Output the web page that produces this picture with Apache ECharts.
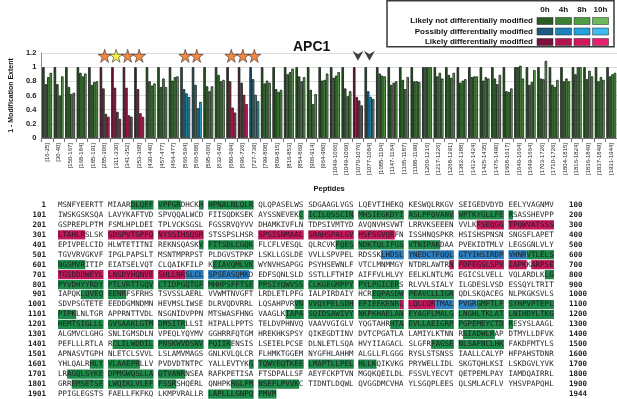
<!DOCTYPE html>
<html>
<head>
<meta charset="utf-8">
<script src="https://cdn.jsdelivr.net/npm/echarts@6/dist/echarts.min.js"></script>
<style>
  html, body { margin: 0; padding: 0; background: #fff; }
  #main { width: 617px; height: 399px; }
</style>
</head>
<body>
<div id="main"></div>
<script>
// peptides on the x axis, and whether each one looks differentially modified (g / b / p)
var peptides = ['[16-25]', '[30-40]', '[150-167]', '[168-184]', '[185-191]', '[285-306]', '[311-330]', '[341-352]', '[353-368]', '[430-440]',
  '[457-477]', '[464-477]', '[566-594]', '[566-588]', '[595-606]', '[632-640]', '[680-694]', '[696-726]', '[727-739]', '[799-808]',
  '[809-815]', '[816-853]', '[854-869]', '[906-914]', '[964-980]', '[1049-1066]', '[1049-1069]', '[1070-1076]', '[1077-1084]', '[1085-1104]',
  '[1147-1164]', '[1165-1187]', '[1188-1199]', '[1200-1216]', '[1217-1226]', '[1268-1291]', '[1382-1388]', '[1412-1424]', '[1425-1435]', '[1476-1490]',
  '[1608-1617]', '[1640-1664]', '[1649-1664]', '[1703-1726]', '[1710-1726]', '[1804-1815]', '[1816-1824]', '[1836-1849]', '[1837-1849]', '[1931-1944]'];
var peptideClass = ['g', 'g', 'g', 'g', 'g', 'p', 'p', 'p', 'p', 'g',
  'g', 'g', 'b', 'b', 'g', 'g', 'p', 'p', 'b', 'g',
  'g', 'g', 'g', 'g', 'g', 'g', 'g', 'p', 'b', 'g',
  'g', 'g', 'g', 'g', 'g', 'g', 'g', 'g', 'g', 'g',
  'g', 'g', 'g', 'g', 'g', 'g', 'g', 'g', 'g', 'g'];

var timepoints = ['0h', '4h', '8h', '10h'];
var val0h = [1, 1, 1, 1, 1, 1, 1, 1, 1, 1, 1, 1, 1, 1, 1, 1, 1, 1, 1, 1, 1, 1, 1, 1, 1,
  1, 1, 1, 1, 1, 1, 1, 1, 1, 1, 1, 1, 1, 1, 1, 1, 1, 1, 1, 1, 1, 1, 1, 1, 1];
var val4h = [0.76, 0.76, 0.72, 0.92, 0.75, 0.70, 0.71, 0.71, 0.69, 0.80,
  0.72, 0.81, 0.69, 0.75, 0.73, 0.89, 0.80, 0.78, 0.83, 0.77,
  0.69, 0.90, 0.87, 0.68, 0.81, 0.85, 0.70, 0.58, 0.66, 0.91,
  0.75, 0.82, 0.80, 1.00, 0.87, 0.89, 0.78, 0.86, 0.81, 0.84,
  0.66, 1.00, 0.75, 0.84, 0.75, 0.80, 0.90, 0.83, 0.80, 0.87];
var val8h = [0.86, 0.60, 0.62, 0.87, 0.79, 0.34, 0.37, 0.32, 0.35, 0.74,
  0.84, 0.86, 0.63, 0.42, 0.66, 0.80, 0.43, 0.61, 0.61, 0.81,
  0.65, 0.93, 0.80, 0.48, 0.82, 0.88, 0.59, 0.53, 0.58, 0.88,
  0.78, 0.69, 0.80, 1.00, 0.92, 0.85, 0.81, 0.87, 0.86, 0.76,
  0.65, 1.02, 0.79, 0.83, 0.72, 0.84, 1.00, 0.95, 0.86, 0.90];
var val10h = [0.92, 0.87, 0.64, 0.91, 0.80, 0.30, 0.27, 0.30, 0.30, 0.77,
  0.72, 0.87, 0.58, 0.51, 0.73, 0.82, 0.36, 0.48, 0.52, 0.78,
  0.68, 0.98, 0.86, 0.62, 0.91, 0.93, 0.66, 0.46, 0.55, 0.87,
  0.80, 0.86, 0.79, 1.00, 0.84, 0.92, 0.83, 0.87, 0.84, 0.89,
  0.70, 0.84, 0.96, 1.09, 0.82, 0.80, 1.00, 0.87, 0.82, 0.92];

// markers above the bars
var starPeptides = ['[285-306]', '[311-330]', '[341-352]', '[353-368]', '[566-594]', '[566-588]', '[680-694]', '[696-726]', '[727-739]'];
var yellowStar = '[311-330]';
var arrowPeptides = ['[1070-1076]', '[1077-1084]'];
var markLevel = 1.16;

var legendLabels = { g: 'Likely not differentially modified', b: 'Possibly differentially modified', p: 'Likely differentially modified' };

// APC1 sequence, 100 residues a row
var seqRows = [
  'MSNFYEERTT MIAARDLQEF VPFGRDHCKH HPNALNLQLR QLQPASELWS SDGAAGLVGS LQEVTIHEKQ KESWQLRKGV SEIGEDVDYD EELYVAGNMV',
  'IWSKGSKSQA LAVYKAFTVD SPVQQALWCD FIISQDKSEK AYSSNEVEKC ICILQSSCIN MHSIEGKDYI ASLPFQVANV WPTKYGLLFE RSASSHEVPP',
  'GSPREPLPTM FSMLHPLDEI TPLVCKSGSL FGSSRVQYVV DHAMKIVFLN TDPSIVMTYD AVQNVHSVWT LRRVKSEEEN VVLKFSEQGG TPQWVATSSS',
  'LTAHLRSLSK GDSPVTSPFQ NYSSIHSQSR STSSPSLHSR SPSISNMAAL SRAHSPALGV HSFSGVQRFN ISSHNQSPKR HSISHSPNSN SNGSFLAPET',
  'EPIVPELCID HLWTETITNI REKNSQASKV FITSDLCGQK FLCFLVESQL QLRCVKFQES NDKTQLIFGS VTNIPAKDAA PVEKIDTMLV LEGSGNLVLY',
  'TGVVRVGKVF IPGLPAPSLT MSNTMPRPST PLDGVSTPKP LSKLLGSLDE VVLLSPVPEL RDSSKLHDSL YNEDCTFQQL GTYIHSIRDP VHNRVTLELS',
  'NGSMVRITIP EIATSELVQT CLQAIKFILP KEIAVQMLVK WYNVHSAPGG PSYHSEWNLF VTCLMNMMGY NTDRLAWTRN FDFEGSLSPV IAPKKARPSE',
  'TGSDDDWEYL LNSDYHQNVE SHLLNRSLCL SPSEASQMKD EDFSQNLSLD SSTLLFTHIP AIFFVLHLVY EELKLNTLMG EGICSLVELL VQLARDLKLG',
  'PYVDHYYRDY PTLVRTTGQV CTIDPGQTGF MHHPSFFTSE PPSIYQWVSS CLKGEGMPPY PYLPGICERS RLVVLSIALY ILGDESLVSD ESSQYLTRIT',
  'IAPQKLQVEQ EENRFSFRHS TSVSSLAERL VVWMTNVGFT LRDLETLPFG IALPIRDAIY HCREQPASDW PEAVCLLIGR QDLSKQACEG NLPKGKSVLS',
  'SDVPSGTETE EEDDGMNDMN HEVMSLIWSE DLRVQDVRRL LQSAHPVRVN VVQYPELSDH EFIEEKENRL LQLCQRTMAL PVGRGMFTLF SYHPVPTEPL',
  'PIPKLNLTGR APPRNTTVDL NSGNIDVPPN MTSWASFHNG VAAGLKIAPA SQIDSAWIVY NKPKHAELAN EYAGFLMALG LNGHLTKLAT LNIHDYLTKG',
  'HEMTSIGLLL GVSAAKLGTM DMSITRLLSI HIPALLPPTS TELDVPHNVQ VAAVVGIGLV YQGTAHRHTA EVLLAEIGRP PGPEMEYCTD RESYSLAAGL',
  'ALGMVCLGHG SNLIGMSDLN VPEQLYQYMV GGHRRFQTGM HREKHKSPSY QIKEGDTINV DVTCPGATLA LAMIYLKTNN RSIADWLRAP DTMYLLDFVK',
  'PEFLLLRTLA RCLILWDDIL PNSKWVDSNV PQIIRENSIS LSEIELPCSE DLNLETLSQA HVYIIAGACL SLGFRFAGSE NLSAFNCLHK FAKDFMTYLS',
  'APNASVTGPH NLETCLSVVL LSLAMVMAGS GNLKVLQLCR FLHMKTGGEM NYGFHLAHHM ALGLLFLGGG RYSLSTSNSS IAALLCALYP HFPAHSTDNR',
  'YHLQALRHLY VLAAEPRLLV PVDVDTNTPC YALLEVTYKG TQWYEQTKEE LMAPTLLPEL HLLKQIKVKG PRYWELLIDL SKGTQHLKSI LSKDGVLYVK',
  'LRAGQLSYKE DPMGWQSLLA QTVANRNSEA RAFKPETISA FTSDPALLSF AEYFCKPTVN MGQKQEILDL FSSVLYECVT QETPEMLPAY IAMDQAIRRL',
  'GRREMSETSE LWQIKLVLEF FSSRSHQERL QNHPKRGLFM NSEFLPVVKC TIDNTLDQWL QVGGDMCVHA YLSGQPLEES QLSMLACFLV YHSVPAPQHL',
  'PPIGLEGSTS FAELLFKFKQ LKMPVRALLR LAPLLLGNPQ PMVM'
];
var rowStarts = ['1', '101', '201', '301', '401', '501', '601', '701', '801', '901',
  '1001', '1101', '1201', '1301', '1401', '1501', '1601', '1701', '1801', '1901'];
var rowEnds = ['100', '200', '300', '400', '500', '600', '700', '800', '900', '1000',
  '1100', '1200', '1300', '1400', '1500', '1600', '1700', '1800', '1900', '1944'];

// colours
var palette = {
  g: ['#2a5a25', '#3d7f35', '#4f9c44', '#6cb85c'],
  b: ['#1b5a7e', '#1f83bb', '#25a2dc', '#3bbdf0'],
  p: ['#7c0f3e', '#b3134f', '#d3165c', '#ea1f72']
};
var classOrder = ['g', 'b', 'p'];
var hlColors = ['#1d8a4a', '#2c80c1', '#c4185c'];

// which residue belongs to which class of peptide
var resClass = {};
peptides.forEach(function (p, i) {
  var m = p.match(/\[(\d+)-(\d+)\]/);
  for (var r = +m[1]; r <= +m[2]; r++) resClass[r] = classOrder.indexOf(peptideClass[i]);
});

// sequence blocks and highlight runs, split at the block gaps
var textData = [], blockTexts = [], hlData = [];
seqRows.forEach(function (line, ri) {
  var row = line.replace(/ /g, '');
  for (var b = 0; b * 10 < row.length; b++) {
    var block = row.substr(b * 10, 10);
    textData.push([b * 11, ri]);
    blockTexts.push(block);
    var runStart = 0, runCls = null;
    for (var k = 0; k <= block.length; k++) {
      var c = k < block.length ? resClass[ri * 100 + b * 10 + k + 1] : undefined;
      if (c === undefined) c = null;
      if (c !== runCls) {
        if (runCls !== null) hlData.push([b * 11 + runStart, ri, k - runStart, runCls]);
        runCls = c;
        runStart = k;
      }
    }
  }
});

var seriesVals = [val0h, val4h, val8h, val10h];
var barSeries = seriesVals.map(function (vals, t) {
  return {
    name: timepoints[t],
    type: 'bar',
    xAxisIndex: 0,
    yAxisIndex: 0,
    data: vals,
    barGap: '0%',
    barCategoryGap: '14%',
    itemStyle: {
      color: function (p) { return palette[peptideClass[p.dataIndex]][t]; },
      borderColor: '#0c180c',
      borderWidth: 0.8
    }
  };
});

var starPath = 'path://M50,0 L61,35 L98,35 L68,57 L79,91 L50,70 L21,91 L32,57 L2,35 L39,35 Z';
var arrowPath = 'path://M0,0 L10,6 L20,0 L10,17 Z';

// legend box drawn as graphic elements
var legendGraphic = [{
  type: 'rect', shape: { x: 387, y: 0.8, width: 227, height: 46 },
  style: { fill: '#fff', stroke: '#3a3a3a', lineWidth: 1.5 }, z: 10
}];
var swX = [537, 555.5, 574, 592.5];
timepoints.forEach(function (t, i) {
  legendGraphic.push({
    type: 'text', x: swX[i] + 8, y: 10, z: 11,
    style: { text: t, font: 'bold 8px "Liberation Sans"', fill: '#111', align: 'center', verticalAlign: 'middle' }
  });
});
classOrder.forEach(function (c, r) {
  var y = 21 + r * 10.5;
  legendGraphic.push({
    type: 'text', x: 533, y: y, z: 11,
    style: { text: legendLabels[c], font: 'bold 8px "Liberation Sans"', fill: '#111', align: 'right', verticalAlign: 'middle' }
  });
  palette[c].forEach(function (col, i) {
    legendGraphic.push({
      type: 'rect', z: 11, shape: { x: swX[i], y: y - 3.5, width: 16, height: 7 },
      style: { fill: col, stroke: '#222', lineWidth: 0.5 }
    });
  });
});

var chart = echarts.init(document.getElementById('main'));
chart.setOption({
  animation: false,
  textStyle: { fontFamily: 'Liberation Sans' },
  title: {
    text: 'APC1', left: 288, top: 35,
    textStyle: { fontSize: 14, fontWeight: 'bold', color: '#111', fontFamily: 'Liberation Sans' }
  },
  graphic: legendGraphic,
  grid: [
    { left: 27.5, top: 53, width: 592, height: 85 },
    { left: 58, top: 200, width: 496, height: 200 }
  ],
  xAxis: [{
    type: 'category', gridIndex: 0, data: peptides,
    name: 'Peptides', nameLocation: 'middle', nameGap: 47,
    nameTextStyle: { fontWeight: 'bold', fontSize: 7.5, color: '#111' },
    axisLine: { lineStyle: { color: '#777' } },
    axisTick: { show: true, length: 4, lineStyle: { color: '#777' } },
    axisLabel: { interval: 0, rotate: 90, fontSize: 6, margin: 5, color: '#222' }
  }, {
    type: 'value', gridIndex: 1, min: 0, max: 109, show: false
  }],
  yAxis: [{
    type: 'value', gridIndex: 0, min: 0, max: 1.2, interval: 0.2,
    name: '1 - Modification Extent', nameLocation: 'middle', nameGap: 19,
    nameTextStyle: { fontWeight: 'bold', fontSize: 7, color: '#111' },
    axisLine: { show: true, lineStyle: { color: '#888' } },
    axisTick: { show: false },
    axisLabel: { fontSize: 7.5, fontWeight: 'bold', color: '#222', margin: 5 },
    splitLine: { lineStyle: { color: '#dcdcdc' } }
  }, {
    type: 'category', gridIndex: 1, data: rowStarts, inverse: true, position: 'left',
    axisLine: { show: false }, axisTick: { show: false },
    axisLabel: { interval: 0, fontFamily: 'DejaVu Sans Mono', fontWeight: 'bold', fontSize: 7.5, color: '#222', margin: 12 }
  }, {
    type: 'category', gridIndex: 1, data: rowEnds, inverse: true, position: 'right',
    axisLine: { show: false }, axisTick: { show: false },
    axisLabel: { interval: 0, fontFamily: 'DejaVu Sans Mono', fontWeight: 'bold', fontSize: 7.5, color: '#222', margin: 15 }
  }],
  series: barSeries.concat([{
    type: 'scatter', xAxisIndex: 0, yAxisIndex: 0, clip: false, z: 5,
    symbol: starPath, symbolSize: 13,
    data: starPeptides.map(function (p) {
      return { value: [p, markLevel], itemStyle: { color: p === yellowStar ? '#f2ee1c' : '#f26a12' } };
    }),
    itemStyle: { borderColor: '#222', borderWidth: 0.7 }
  }, {
    type: 'scatter', xAxisIndex: 0, yAxisIndex: 0, clip: false, z: 5,
    symbol: arrowPath, symbolSize: [11, 10],
    data: arrowPeptides.map(function (p) { return [p, markLevel]; }),
    itemStyle: { color: '#111' }
  }, {
    type: 'custom', xAxisIndex: 1, yAxisIndex: 1, clip: false, z: 2,
    data: hlData,
    renderItem: function (params, api) {
      var c0 = api.value(0), row = api.value(1), len = api.value(2);
      var p0 = api.coord([c0, row]);
      var p1 = api.coord([c0 + len, row]);
      return {
        type: 'rect',
        shape: { x: p0[0], y: p0[1] - 4.6, width: p1[0] - p0[0], height: 9.2 },
        style: { fill: hlColors[api.value(3)] }
      };
    }
  }, {
    type: 'custom', xAxisIndex: 1, yAxisIndex: 1, clip: false, z: 3,
    data: textData,
    renderItem: function (params, api) {
      var p = api.coord([api.value(0), api.value(1)]);
      return {
        type: 'text', x: p[0], y: p[1],
        style: {
          text: blockTexts[params.dataIndex], font: '7.5px "DejaVu Sans Mono"',
          fill: '#1e1e1e', align: 'left', verticalAlign: 'middle'
        }
      };
    }
  }])
});
</script>
</body>
</html>
